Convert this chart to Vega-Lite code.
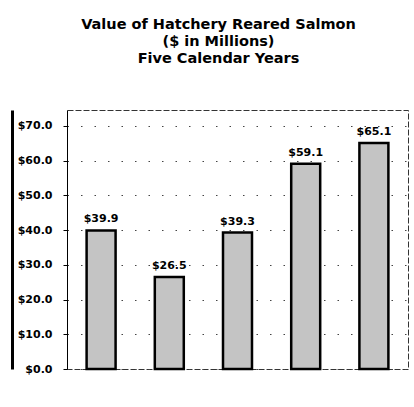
{
  "$schema": "https://vega.github.io/schema/vega-lite/v6.json",
  "autosize": "none",
  "width": 341,
  "height": 259,
  "padding": {"left": 67, "top": 110, "right": 6, "bottom": 38},
  "background": "white",
  "title": {
    "text": ["Value of Hatchery Reared Salmon", "($ in Millions)", "Five Calendar Years"],
    "font": "DejaVu Sans",
    "fontSize": 14.5,
    "fontWeight": "bold",
    "lineHeight": 17,
    "color": "#000",
    "anchor": "middle",
    "frame": "group",
    "dx": -19,
    "offset": 44
  },
  "data": {"values": [
    {"year": "2003", "value": 39.9, "label": "$39.9"},
    {"year": "2004", "value": 26.5, "label": "$26.5"},
    {"year": "2005", "value": 39.3, "label": "$39.3"},
    {"year": "2006", "value": 59.1, "label": "$59.1"},
    {"year": "2007", "value": 65.1, "label": "$65.1"}
  ]},
  "config": {
    "view": {"stroke": "#333", "strokeWidth": 1, "strokeDash": [6, 2]},
    "font": "DejaVu Sans"
  },
  "encoding": {
    "x": {"field": "year", "type": "nominal", "sort": null,
      "scale": {"paddingInner": 0.575, "paddingOuter": 0.2875}},
    "y": {"field": "value", "type": "quantitative",
      "scale": {"domain": [0, 74.6], "nice": false, "zero": true}}
  },
  "layer": [
    {
      "mark": {"type": "bar", "fill": "#c4c4c4", "stroke": "#000", "strokeWidth": 2.5},
      "encoding": {
        "x": {"field": "year", "type": "nominal", "sort": null,
          "axis": {"title": null, "labelAngle": 0, "labelFont": "DejaVu Sans", "labelFontSize": 11, "labelFontWeight": "bold", "labelColor": "#000",
            "tickBand": "extent", "tickSize": 4, "tickColor": "#000", "labelPadding": 11,
            "domainColor": "#000", "domainWidth": 1.5}},
        "y": {"field": "value", "type": "quantitative",
          "axis": {"title": null, "values": [0, 10, 20, 30, 40, 50, 60, 70],
            "labelExpr": "'$' + format(datum.value, '.1f')",
            "labelFont": "DejaVu Sans", "labelFontSize": 11, "labelFontWeight": "bold", "labelColor": "#000",
            "tickSize": 4, "tickColor": "#000", "labelPadding": 11,
            "domainColor": "#000", "domainWidth": 1,
            "grid": true, "gridColor": "#444", "gridDash": [1.5, 12], "gridWidth": 1}}
      }
    },
    {
      "mark": {"type": "text", "font": "DejaVu Sans", "fontSize": 11, "fontWeight": "bold", "color": "#000", "baseline": "alphabetic", "dy": -8},
      "encoding": {
        "text": {"field": "label"},
        "x": {"field": "year", "type": "nominal", "sort": null, "axis": null},
        "y": {"field": "value", "type": "quantitative",
          "axis": {"orient": "left", "offset": 55, "labels": false, "ticks": false, "title": null, "domainColor": "#000", "domainWidth": 3, "grid": false}}
      }
    }
  ],
  "resolve": {"axis": {"y": "independent"}}
}
